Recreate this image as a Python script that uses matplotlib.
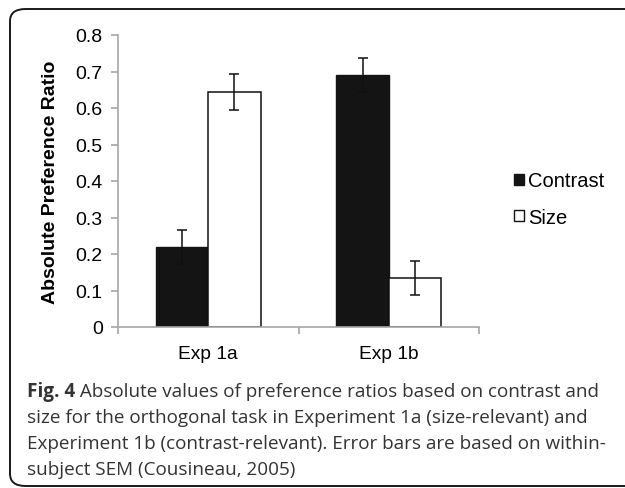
import numpy as np
import matplotlib
matplotlib.use("Agg")
import matplotlib.pyplot as plt
from matplotlib.patches import FancyBboxPatch, Patch

# data
experiments = ["Exp 1a", "Exp 1b"]
contrast = [0.219, 0.690]
contrast_err = [0.047, 0.047]
size = [0.644, 0.134]
size_err = [0.050, 0.046]

caption_bold = "Fig. 4"
caption_lines = [
    " Absolute values of preference ratios based on contrast and",
    "size for the orthogonal task in Experiment 1a (size-relevant) and",
    "Experiment 1b (contrast-relevant). Error bars are based on within-",
    "subject SEM (Cousineau, 2005)",
]

W, H = 625, 489
fig = plt.figure(figsize=(W / 100, H / 100), dpi=100)
plt.rcParams['font.family'] = ['Liberation Sans', 'DejaVu Sans']

ax = fig.add_axes([118 / W, 161 / H, 361 / W, 292 / H])

x = np.arange(len(experiments))
bw = 0.29
err_kw = dict(ecolor="#111111", capsize=3.5, elinewidth=1.1, capthick=1.1)
ax.bar(x - bw / 2, contrast, bw, yerr=contrast_err, color="#141414",
       edgecolor="#141414", linewidth=1, error_kw=err_kw, label="Contrast")
ax.bar(x + bw / 2, size, bw, yerr=size_err, color="white",
       edgecolor="#111111", linewidth=1.1, error_kw=err_kw, label="Size")

ax.set_xlim(-0.5, 1.5)
ax.set_ylim(0, 0.8)
ax.set_yticks(np.arange(0, 0.81, 0.1))
ax.set_yticklabels(["0"] + [f"{v:.1f}" for v in np.arange(0.1, 0.81, 0.1)])
ax.set_xticks([-0.5, 0.5, 1.5])
ax.set_xticklabels([])
ax.set_xticks(x, minor=True)
ax.set_xticklabels(experiments, minor=True)
ax.tick_params(axis="x", which="minor", length=0, pad=13, labelsize=13.8)
ax.tick_params(axis="x", which="major", length=5, color="#a6a6a6", width=1.2)
ax.tick_params(axis="y", length=5, color="#a6a6a6", width=1.2, labelsize=14,
               pad=6)
for s in ["top", "right"]:
    ax.spines[s].set_visible(False)
for s in ["left", "bottom"]:
    ax.spines[s].set_color("#a6a6a6")
    ax.spines[s].set_linewidth(1.2)

ax.set_ylabel("Absolute Preference Ratio", fontsize=14, fontweight="bold",
              labelpad=12)

handles = [Patch(facecolor="#141414", edgecolor="#141414"),
           Patch(facecolor="white", edgecolor="#111111")]
fig.legend(handles, ["Contrast", "Size"], loc="center left",
           bbox_to_anchor=(496 / W, 1 - 200 / H), frameon=False, fontsize=14.5,
           handlelength=0.5, handleheight=0.5, handletextpad=0.2,
           labelspacing=0.85)

# border box round the panel
box = FancyBboxPatch((10 / W, 2 / H), 1.2, (H - 12) / H,
                     boxstyle="round,pad=0,rounding_size=0.025",
                     transform=fig.transFigure, facecolor="none",
                     edgecolor="#1a1a1a", linewidth=1.4, clip_on=False)
fig.patches.append(box)

# caption
cap_font = dict(family=["Open Sans", "DejaVu Sans"], fontsize=13.6,
                color="#333333", va="baseline")
y0 = H - 397
t = fig.text(27 / W, y0 / H, caption_bold, fontweight="bold", **cap_font)
fig.canvas.draw()
bb = t.get_window_extent()
fig.text(bb.x1 / W, y0 / H, caption_lines[0], **cap_font)
for i, line in enumerate(caption_lines[1:], start=1):
    fig.text(27 / W, (y0 - 26 * i) / H, line, **cap_font)

fig.savefig("out.png", dpi=100)
